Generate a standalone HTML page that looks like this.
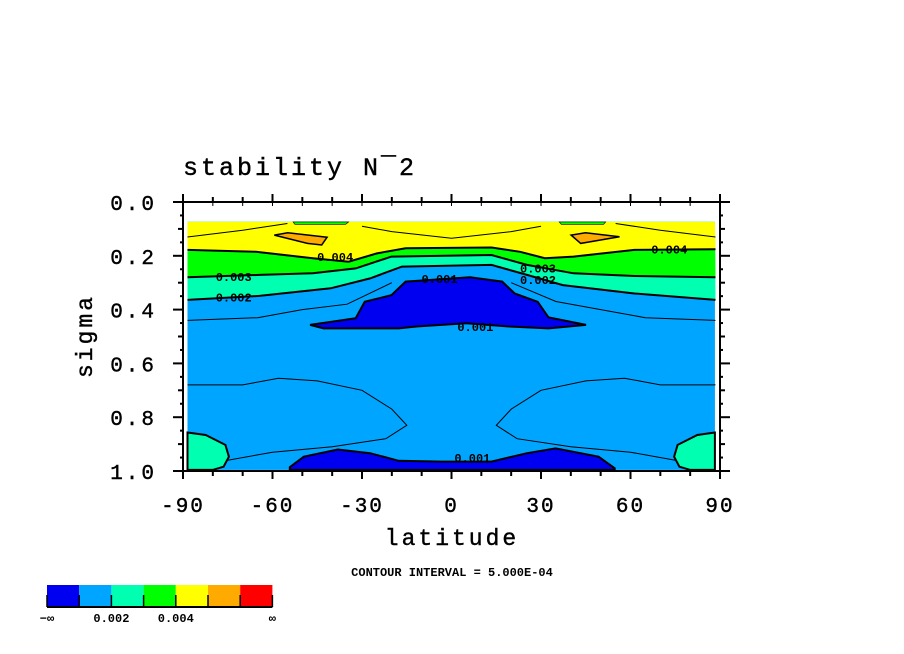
<!DOCTYPE html>
<html><head><meta charset="utf-8">
<style>
html,body{margin:0;padding:0;background:#fff;}
svg{display:block;font-family:"Liberation Mono","DejaVu Sans Mono",monospace;}
</style></head>
<body>
<svg id="chart" width="904" height="654" viewBox="0 0 904 654" xmlns="http://www.w3.org/2000/svg">
<text x="183" y="175" font-size="25" letter-spacing="3" stroke="#000" stroke-width="0.4">stability N¯2</text>
<g id="plot"></g>
<g id="axes"></g>
<text x="452" y="545" font-size="23" text-anchor="middle" letter-spacing="3" stroke="#000" stroke-width="0.4">latitude</text>
<text transform="translate(92,336) rotate(-90)" font-size="23" text-anchor="middle" letter-spacing="3" stroke="#000" stroke-width="0.4">sigma</text>
<text x="452" y="576" font-size="12" font-weight="bold" text-anchor="middle">CONTOUR INTERVAL = 5.000E-04</text>
<g id="legend"></g>
</svg>
<script>
const NS="http://www.w3.org/2000/svg";
const xTicks=[-90,-60,-30,0,30,60,90];
const yTicks=[0.0,0.2,0.4,0.6,0.8,1.0];
const colors=["#0000f0","#00a5ff","#00ffb0","#00ff00","#ffff00","#ffaa00","#ff0000"];
const legendLabels=["−∞","0.002","0.004","∞"];
const yellowBottom=[[-88.5,0.178],[-65.6,0.185],[-46.5,0.209],[-34.5,0.222],[-25.0,0.191],[-15.4,0.172],[13.4,0.169],[23.0,0.185],[31.3,0.209],[40.9,0.203],[61.3,0.178],[88.5,0.176]];
const greenBottom=[[-88.5,0.280],[-64.4,0.271],[-46.5,0.265],[-32.1,0.247],[-20.1,0.203],[13.4,0.197],[25.3,0.234],[40.9,0.265],[61.3,0.275],[88.5,0.280]];
const tealBottom=[[-88.5,0.364],[-64.4,0.349],[-40.5,0.321],[-27.3,0.284],[-16.6,0.240],[13.4,0.234],[25.3,0.271],[37.3,0.309],[61.3,0.340],[88.5,0.364]];
const blueUpper=[[-47.4,0.457],[-32.1,0.432],[-29.1,0.371],[-20.1,0.346],[-15.4,0.296],[6.2,0.280],[17.0,0.296],[21.2,0.340],[28.9,0.371],[32.5,0.429],[45.1,0.457],[32.5,0.470],[19.4,0.463],[5.0,0.451],[-11.8,0.463],[-17.7,0.470],[-42.9,0.470]];
const blueLower=[[-54.2,0.986],[-49.5,0.947],[-38.1,0.920],[-27.3,0.934],[-17.7,0.962],[-3.4,0.965],[13.4,0.965],[25.3,0.934],[34.9,0.916],[49.3,0.947],[54.7,0.990],[54.7,0.996],[-54.2,0.996]];
const orangeLeft=[[-59.4,0.123],[-54.9,0.114],[-41.7,0.131],[-43.5,0.160],[-48.3,0.154]];
const orangeRight=[[40.1,0.123],[44.9,0.114],[56.3,0.129],[43.3,0.154]];
const greenTopLeft=[[-53.1,0.074],[-34.5,0.074],[-35.5,0.083],[-52.5,0.083]];
const greenTopRight=[[36.1,0.074],[51.7,0.074],[51.0,0.083],[36.8,0.083]];
const tealCornerLeft=[[-88.5,0.857],[-82.4,0.866],[-75.8,0.903],[-74.6,0.947],[-76.4,0.984],[-80.0,0.996],[-88.5,0.996]];
const tealCornerRight=[[88.3,0.857],[82.4,0.866],[75.8,0.903],[74.6,0.947],[76.4,0.984],[80.0,0.996],[88.3,0.996]];
const thinLines=[
 [[-88.5,0.44],[-65,0.43],[-50,0.40],[-35,0.38],[-20,0.30]],
 [[20,0.30],[35,0.37],[50,0.40],[65,0.43],[88.5,0.44]],
 [[-88.5,0.68],[-70,0.68],[-58,0.655],[-45,0.665],[-30,0.70],[-20,0.77],[-15,0.83],[-22,0.88],[-40,0.91],[-60,0.93],[-75,0.96]],
 [[88.5,0.68],[70,0.68],[58,0.655],[45,0.665],[30,0.70],[20,0.77],[15,0.83],[22,0.88],[40,0.91],[60,0.93],[75,0.96]],
 [[-88.5,0.13],[-70,0.105],[-55,0.08]],[[88.5,0.13],[70,0.105],[55,0.08]],
 [[-30,0.09],[-20,0.11],[0,0.135],[20,0.11],[30,0.09]]
];
const contourLabels=[["0.004",-39,0.205],["0.003",-73,0.278],["0.002",-73,0.355],["0.001",-4,0.287],["0.001",8,0.465],["0.004",73,0.176],["0.003",29,0.247],["0.002",29,0.29],["0.001",7,0.952]];

const X0=183,X1=720,Y0=202,Y1=471;
const sx=lat=>X0+(lat+90)/180*(X1-X0);
const sy=s=>Y0+s*(Y1-Y0);
const plot=document.getElementById('plot');
function el(tag,attrs,parent){const e=document.createElementNS(NS,tag);for(const k in attrs)e.setAttribute(k,attrs[k]);parent.appendChild(e);return e;}
const pts=a=>a.map(p=>sx(p[0]).toFixed(1)+","+sy(p[1]).toFixed(1)).join(" ");
const topEdge=0.074,botEdge=0.996,L=-88.5,R=88.3;
const bg=el('rect',{x:sx(L),y:sy(topEdge),width:sx(R)-sx(L),height:sy(botEdge)-sy(topEdge),fill:colors[1]},plot);


function band(bound,color,name){
 const poly=[[L,topEdge]].concat(bound).concat([[R,topEdge]]);
 const p=el('polygon',{points:pts(poly),fill:color},plot);
 
 
 const l=el('polyline',{points:pts(bound),fill:'none',stroke:'#000','stroke-width':2},plot);
 
 
}
band(tealBottom,colors[2],'fill-teal');
band(greenBottom,colors[3],'fill-green');
band(yellowBottom,colors[4],'fill-yellow');
function blob(arr,color,name,w){
 const p=el('polygon',{points:pts(arr),fill:color,stroke:'#000','stroke-width':w},plot);
 
 
}
blob(blueUpper,colors[0],'fill-dark-blue-upper',2);
blob(blueLower,colors[0],'fill-dark-blue-lower',2);
blob(orangeLeft,colors[5],'fill-orange-left',1.5);
blob(orangeRight,colors[5],'fill-orange-right',1.5);
blob(greenTopLeft,colors[3],'fill-green-top-left',0.6);
blob(greenTopRight,colors[3],'fill-green-top-right',0.6);
blob(tealCornerLeft,colors[2],'fill-teal-corner-left',2);
blob(tealCornerRight,colors[2],'fill-teal-corner-right',2);
thinLines.forEach(t=>{
 const l=el('polyline',{points:pts(t),fill:'none',stroke:'#000','stroke-width':1},plot);
 
 
});
contourLabels.forEach(c=>{
 const t=el('text',{x:sx(c[1]),y:sy(c[2])+4,'font-size':12,'font-weight':'bold','text-anchor':'middle'},plot);
 t.textContent=c[0];
 
 
});
const ax=document.getElementById('axes');
const fr=el('rect',{x:X0,y:Y0,width:X1-X0,height:Y1-Y0,fill:'none',stroke:'#000','stroke-width':2},ax);


for(let lat=-90;lat<=90;lat+=10){
 const x=sx(lat),maj=lat%30===0;
 el('line',{x1:x,y1:Y1,x2:x,y2:Y1+(maj?8:5),stroke:'#000','stroke-width':2},ax);
 el('line',{x1:x,y1:Y0,x2:x,y2:Y0-(maj?8:5),stroke:'#000','stroke-width':2},ax);
 el('line',{x1:x,y1:Y0,x2:x,y2:Y0+4,stroke:'#000','stroke-width':1},ax);
}
for(let i=0;i<=20;i++){
 const y=sy(i/20),maj=i%4===0,mid=i%2===0;
 const len=maj?10:(mid?5:3);
 el('line',{x1:X0,y1:y,x2:X0-len,y2:y,stroke:'#000','stroke-width':2},ax);
 el('line',{x1:X1,y1:y,x2:X1+len,y2:y,stroke:'#000','stroke-width':2},ax);
}
xTicks.forEach(v=>{
 const t=el('text',{x:sx(v),y:512,'font-size':21,'text-anchor':'middle','letter-spacing':2,stroke:'#000','stroke-width':0.4},ax);
 t.textContent=String(v);
 
 
});
yTicks.forEach(v=>{
 const t=el('text',{x:157,y:sy(v)+8,'font-size':21,'text-anchor':'end','letter-spacing':3,stroke:'#000','stroke-width':0.4},ax);
 t.textContent=v.toFixed(1);
 
 
});
const lg=document.getElementById('legend');
const lx=47,lw=32.2,ly=585,lh=22;
colors.forEach((c,i)=>{
 const r=el('rect',{x:lx+i*lw,y:ly,width:lw,height:lh,fill:c},lg);
 
 
 el('line',{x1:lx+i*lw,y1:ly+10,x2:lx+i*lw,y2:ly+lh,stroke:'#000','stroke-width':1.5},lg);
});
el('line',{x1:lx+7*lw,y1:ly+10,x2:lx+7*lw,y2:ly+lh,stroke:'#000','stroke-width':1.5},lg);
el('line',{x1:lx,y1:ly+lh,x2:lx+7*lw,y2:ly+lh,stroke:'#000','stroke-width':2},lg);
const lpos=[0,2,4,7];
legendLabels.forEach((s,i)=>{
 const t=el('text',{x:lx+lpos[i]*lw,y:622,'font-size':12,'font-weight':'bold','text-anchor':'middle'},lg);
 t.textContent=s;
 
 
});
</script>
</body></html>
